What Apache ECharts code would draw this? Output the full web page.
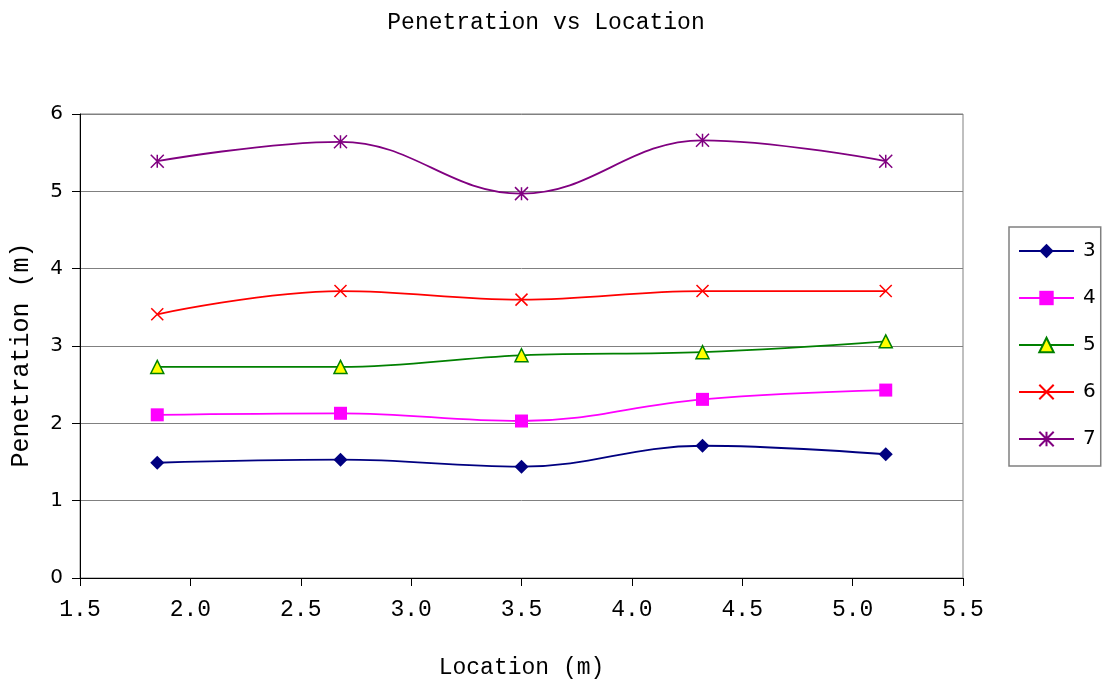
<!DOCTYPE html>
<html>
<head>
<meta charset="utf-8">
<title>Penetration vs Location</title>
<script src="https://cdn.jsdelivr.net/npm/echarts@6/dist/echarts.min.js"></script>
<style>
  html, body { margin: 0; padding: 0; background: #fff; }
  #chart { width: 1106px; height: 688px; }
</style>
</head>
<body>
<div id="chart"></div>
<script>
// Measurement locations (m)
const locations = [1.85, 2.68, 3.5, 4.32, 5.15];

// Penetration (m) per series
const seriesNames = ['3', '4', '5', '6', '7'];
const pen3 = [1.49, 1.53, 1.44, 1.71, 1.60];
const pen4 = [2.11, 2.13, 2.03, 2.31, 2.43];
const pen5 = [2.73, 2.73, 2.88, 2.92, 3.06];
const pen6 = [3.41, 3.71, 3.60, 3.71, 3.71];
const pen7 = [5.39, 5.64, 4.97, 5.66, 5.39];

const yTicks = [0, 1, 2, 3, 4, 5, 6];
const xTicks = [1.5, 2.0, 2.5, 3.0, 3.5, 4.0, 4.5, 5.0, 5.5];

const MONO = '"Liberation Mono", "DejaVu Sans Mono", monospace';
const SANS = '"DejaVu Sans", sans-serif';

const crossPath = 'path://M0,0L10,10M10,0L0,10';
const starPath = 'path://M5,0L5,10M0,0L10,10M10,0L0,10';

function pairs(ys) {
  return locations.map((x, i) => [x, ys[i]]);
}

function makeSeries(name, ys, color, symbol, size, itemStyle) {
  return {
    name: name,
    type: 'line',
    data: pairs(ys),
    smooth: 0.4,
    symbol: symbol,
    symbolSize: size,
    lineStyle: { color: color, width: 1.8 },
    itemStyle: itemStyle,
    emphasis: { disabled: true },
    z: 3
  };
}

const chart = echarts.init(document.getElementById('chart'), null, { renderer: 'canvas' });

chart.setOption({
  animation: false,
  backgroundColor: '#ffffff',
  title: {
    text: 'Penetration vs Location',
    left: 541,
    textAlign: 'center',
    top: 6,
    textStyle: { fontFamily: MONO, fontSize: 23, fontWeight: 'normal', color: '#000' }
  },
  grid: {
    left: 80, right: 143, top: 114, bottom: 110,
    outerBoundsMode: 'none',
    containLabel: false,
    show: true,
    borderColor: '#808080',
    borderWidth: 1
  },
  legend: {
    orient: 'vertical',
    left: 1009,
    top: 227,
    padding: [14, 5, 17, 9],
    itemWidth: 55,
    itemHeight: 18,
    itemGap: 27,
    borderColor: '#808080',
    borderWidth: 1.5,
    backgroundColor: '#fff',
    textStyle: { fontFamily: SANS, fontSize: 20, lineHeight: 18, color: '#000', padding: [0, 0, 0, 4] },
    data: seriesNames
  },
  xAxis: {
    type: 'value',
    min: 1.5,
    max: 5.5,
    interval: 0.5,
    name: 'Location (m)',
    nameLocation: 'middle',
    nameGap: 78,
    nameTextStyle: { fontFamily: MONO, fontSize: 23, color: '#000' },
    axisLine: { lineStyle: { color: '#000', width: 1 } },
    axisTick: { show: true, inside: false, length: 8, lineStyle: { color: '#000' } },
    axisLabel: {
      fontFamily: MONO, fontSize: 23, color: '#000', margin: 20,
      formatter: v => xTicks.find(t => Math.abs(t - v) < 1e-9).toFixed(1)
    },
    splitLine: { show: false }
  },
  yAxis: {
    type: 'value',
    min: 0,
    max: 6,
    interval: 1,
    name: 'Penetration (m)',
    nameLocation: 'middle',
    nameGap: 46,
    nameRotate: 90,
    nameTextStyle: { fontFamily: MONO, fontSize: 25, color: '#000', padding: [0, 18, 0, 0] },
    axisLine: { show: true, lineStyle: { color: '#000', width: 1 } },
    axisTick: { show: true, inside: false, length: 8, lineStyle: { color: '#000' } },
    axisLabel: {
      fontFamily: SANS, fontSize: 20, color: '#000', margin: 17,
      formatter: v => String(yTicks.find(t => t === v))
    },
    splitLine: { show: true, lineStyle: { color: '#808080', width: 1 } }
  },
  series: [
    makeSeries('3', pen3, '#000080', 'diamond', 14,
      { color: '#000080' }),
    makeSeries('4', pen4, '#FF00FF', 'rect', 13,
      { color: '#FF00FF' }),
    makeSeries('5', pen5, '#008000', 'triangle', 13,
      { color: '#FFFF00', borderColor: '#008000', borderWidth: 1.5 }),
    makeSeries('6', pen6, '#FF0000', crossPath, 12,
      { color: '#FF0000', borderColor: '#FF0000', borderWidth: 1.5 }),
    makeSeries('7', pen7, '#800080', starPath, 13,
      { color: '#800080', borderColor: '#800080', borderWidth: 1.5 })
  ]
});
</script>
</body>
</html>
